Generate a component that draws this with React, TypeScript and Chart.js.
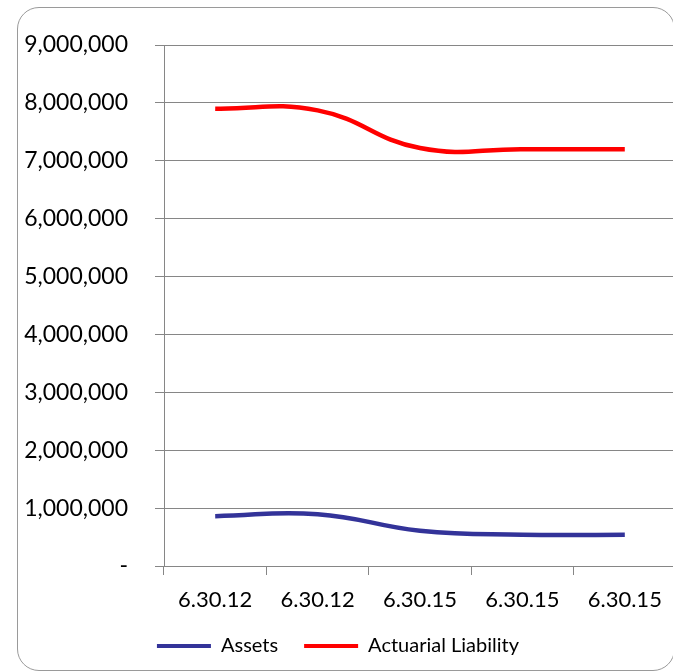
import React, { useEffect, useRef } from 'react';
import { Chart, registerables } from 'chart.js';

Chart.register(...registerables);

const categories = ['6.30.12', '6.30.12', '6.30.15', '6.30.15', '6.30.15'];
const assets = [860000, 895000, 610000, 540000, 540000];
const liability = [7900000, 7870000, 7220000, 7200000, 7200000];
const yMin = 0;
const yMax = 9000000;
const yStep = 1000000;

const FONT = 'Lato, "Open Sans", sans-serif';
const GRID = '#868686';

export default function App() {
  const ref = useRef<HTMLCanvasElement>(null);
  useEffect(() => {
    const canvas = ref.current!;
    const chart = new Chart(canvas, {
      type: 'line',
      data: {
        labels: categories,
        datasets: [
          {
            label: 'Assets',
            data: assets,
            borderColor: '#333399',
            backgroundColor: '#333399',
            borderWidth: 4.5,
            pointRadius: 0,
            tension: 0.45,
            fill: false,
          },
          {
            label: 'Actuarial Liability',
            data: liability,
            borderColor: '#FF0000',
            backgroundColor: '#FF0000',
            borderWidth: 4.5,
            pointRadius: 0,
            tension: 0.45,
            fill: false,
          },
        ],
      },
      options: {
        animation: false,
        responsive: false,
        maintainAspectRatio: false,
        layout: { padding: { left: 0, right: 0, top: 45, bottom: 0 } },
        plugins: {
          tooltip: { enabled: false },
          legend: {
            position: 'bottom',
            labels: {
              boxWidth: 54,
              boxHeight: 4,
              padding: 26,
              color: '#000',
              font: { family: FONT, size: 20 },
              generateLabels: (c: any) =>
                Chart.defaults.plugins.legend.labels
                  .generateLabels(c)
                  .map((l: any) => ({ ...l, lineWidth: 0 })),
            },
          },
        },
        scales: {
          x: {
            offset: true,
            grid: { offset: true, drawOnChartArea: false, drawTicks: true, tickLength: 9, color: GRID },
            border: { color: GRID },
            ticks: { color: '#000', font: { family: FONT, size: 22 }, padding: 12, maxRotation: 0, autoSkip: false },
            afterFit: (s: any) => {
              s.height = 44;
            },
          },
          y: {
            min: yMin,
            max: yMax,
            ticks: {
              stepSize: yStep,
              color: '#000',
              font: { family: FONT, size: 23 },
              padding: 27,
              callback: (v: any) => (Number(v) === 0 ? '-' : Number(v).toLocaleString('en-US')),
            },
            grid: { color: GRID, tickLength: 9 },
            border: { color: GRID },
            afterFit: (s: any) => {
              s.width = 164;
            },
          },
        },
      },
    });
    return () => chart.destroy();
  }, []);

  return (
    <div style={{ position: 'fixed', left: 0, top: 0, width: 680, height: 690, background: '#fff' }}>
      <canvas ref={ref} width={676} height={666} style={{ position: 'absolute', left: 0, top: 0, width: 676, height: 666 }} />
      <div
        style={{
          position: 'absolute',
          left: 17,
          top: 7,
          width: 656,
          height: 662,
          border: '1px solid #9a9a9a',
          borderRadius: 22,
          pointerEvents: 'none',
        }}
      />
    </div>
  );
}
